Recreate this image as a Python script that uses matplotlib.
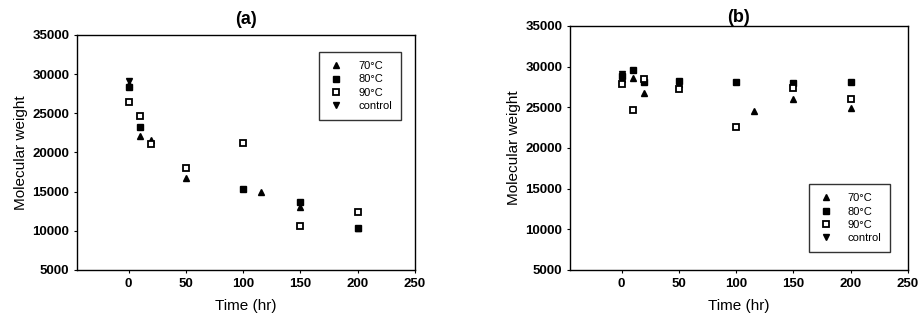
import numpy as np
import matplotlib.pyplot as plt

plt.rcParams['font.family'] = ['Liberation Sans', 'DejaVu Sans']

# (a) 分子量随时间变化
a_t70 = [0, 10, 20, 50, 116, 150, 200]
a_m70 = [28700, 22100, 21600, 16700, 14900, 13000, 10400]
a_t80 = [0, 10, 100, 150, 200]
a_m80 = [28300, 23300, 15400, 13650, 10300]
a_t90 = [0, 10, 20, 50, 100, 150, 200]
a_m90 = [26400, 24600, 21100, 18050, 21200, 10600, 12400]
a_tc = [0]
a_mc = [29100]

# (b)
b_t70 = [0, 10, 20, 50, 116, 150, 200]
b_m70 = [28500, 28550, 26750, 27800, 24550, 26050, 24900]
b_t80 = [0, 10, 20, 50, 100, 150, 200]
b_m80 = [28800, 29600, 28050, 28250, 28100, 28000, 28150]
b_t90 = [0, 10, 20, 50, 100, 150, 200]
b_m90 = [27800, 24700, 28450, 27250, 22550, 27350, 26000]
b_tc = [0]
b_mc = [29050]

labels = ['70°C', '80°C', '90°C', 'control']
xticks = [0, 50, 100, 150, 200, 250]
yticks = [5000, 10000, 15000, 20000, 25000, 30000, 35000]

fig = plt.figure(figsize=(9.23, 3.22), dpi=100)
ax1 = fig.add_axes([0.0834, 0.1615, 0.366, 0.730])
ax2 = fig.add_axes([0.6176, 0.1615, 0.366, 0.758])


def draw(ax, series, title, title_pad, loc, anchor):
    styles = [dict(marker='^', ms=5, mfc='black', mec='black'),
              dict(marker='s', ms=4.5, mfc='black', mec='black'),
              dict(marker='s', ms=4.5, mfc='white', mec='black', mew=1.3),
              dict(marker='v', ms=5, mfc='black', mec='black')]
    for (t, m), lab, st in zip(series, labels, styles):
        ax.plot(t, m, linestyle='none', label=lab, **st)
    ax.set_xlim(-45, 250)
    ax.set_ylim(5000, 35000)
    ax.set_xticks(xticks)
    ax.set_yticks(yticks)
    ax.tick_params(direction='out', length=2, width=0.8, labelsize=9.5)
    for lab in ax.get_xticklabels() + ax.get_yticklabels():
        lab.set_fontweight('bold')
    for s in ax.spines.values():
        s.set_linewidth(1.0)
    ax.set_xlabel('Time (hr)', fontsize=11, labelpad=7)
    ax.set_ylabel('Molecular weight', fontsize=11, labelpad=3)
    ax.set_title(title, fontsize=13, fontweight='bold', pad=title_pad)
    leg = ax.legend(loc=loc, bbox_to_anchor=anchor, fontsize=8, frameon=True,
                    fancybox=False, borderpad=0.8, handletextpad=1.2,
                    labelspacing=0.3, handlelength=1.5)
    leg.get_frame().set_edgecolor('black')
    leg.get_frame().set_linewidth(1.0)


draw(ax1, [(a_t70, a_m70), (a_t80, a_m80), (a_t90, a_m90), (a_tc, a_mc)],
     '(a)', 8, 'upper right', (0.975, 0.95))
draw(ax2, [(b_t70, b_m70), (b_t80, b_m80), (b_t90, b_m90), (b_tc, b_mc)],
     '(b)', 3, 'lower right', (0.965, 0.05))

fig.savefig('out.png', dpi=100)
